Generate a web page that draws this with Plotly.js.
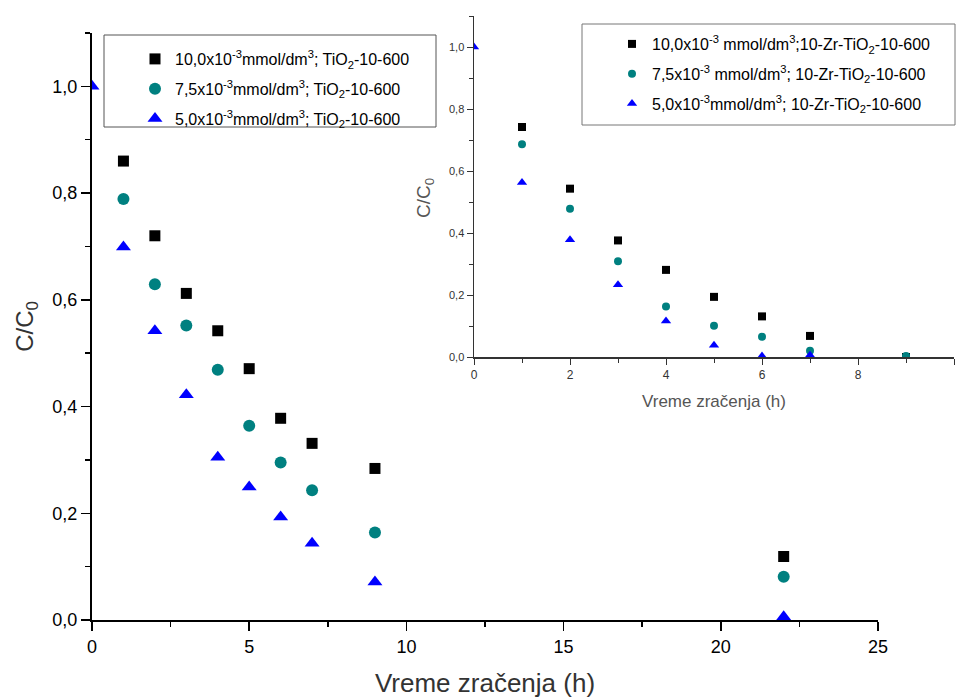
<!DOCTYPE html>
<html>
<head>
<meta charset="utf-8">
<script src="https://cdn.plot.ly/plotly-3.0.1.min.js"></script>
<style>html,body{margin:0;padding:0;background:#fff;}#chart{width:959px;height:698px;}</style>
</head>
<body>
<div id="chart"></div>
<script>
// Main chart: TiO2-10-600
const mainTime = [1, 2, 3, 4, 5, 6, 7, 9, 22];
const main10 = [0.860, 0.720, 0.612, 0.542, 0.471, 0.378, 0.331, 0.284, 0.119];
const main75 = [0.789, 0.629, 0.552, 0.469, 0.364, 0.295, 0.243, 0.164, 0.081];
const mainTime50 = [0, 1, 2, 3, 4, 5, 6, 7, 9, 22];
const main50 = [1.0, 0.699, 0.542, 0.422, 0.305, 0.249, 0.193, 0.144, 0.071, 0.006];

// Inset: 10-Zr-TiO2-10-600
const insetTime = [1, 2, 3, 4, 5, 6, 7, 9];
const inset10 = [0.742, 0.543, 0.376, 0.281, 0.194, 0.131, 0.068, 0.0];
const inset75 = [0.686, 0.478, 0.309, 0.163, 0.101, 0.065, 0.020, 0.003];
const insetTime50 = [0, 1, 2, 3, 4, 5, 6, 7];
const inset50 = [1.0, 0.563, 0.378, 0.233, 0.116, 0.038, 0.003, 0.006];

const names = [
  "10,0x10<sup>-3</sup>mmol/dm<sup>3</sup>; TiO<sub>2</sub>-10-600",
  "7,5x10<sup>-3</sup>mmol/dm<sup>3</sup>; TiO<sub>2</sub>-10-600",
  "5,0x10<sup>-3</sup>mmol/dm<sup>3</sup>; TiO<sub>2</sub>-10-600"
];
const insetNames = [
  "10,0x10<sup>-3</sup> mmol/dm<sup>3</sup>;10-Zr-TiO<sub>2</sub>-10-600",
  "7,5x10<sup>-3</sup> mmol/dm<sup>3</sup>; 10-Zr-TiO<sub>2</sub>-10-600",
  "5,0x10<sup>-3</sup>mmol/dm<sup>3</sup>; 10-Zr-TiO<sub>2</sub>-10-600"
];
const colors = ["#000000", "#008080", "#0000ff"];

const W = 959, H = 698;
const px = v => v / W;
const py = v => 1 - v / H;

const traces = [
  {x: mainTime, y: main10, name: names[0], mode: "markers", type: "scatter", legendgroup: "a",
   marker: {symbol: "square", size: 11, color: colors[0]}, legend: "legend"},
  {x: mainTime, y: main75, name: names[1], mode: "markers", type: "scatter", legendgroup: "b",
   marker: {symbol: "circle", size: 12, color: colors[1]}, legend: "legend"},
  {x: mainTime50, y: main50, name: names[2], mode: "markers", type: "scatter", legendgroup: "c",
   marker: {symbol: "triangle-up", size: 13, color: colors[2]}, legend: "legend"},
  {x: insetTime, y: inset10, name: insetNames[0], mode: "markers", type: "scatter", legendgroup: "d",
   xaxis: "x2", yaxis: "y2", marker: {symbol: "square", size: 8, color: colors[0]}, legend: "legend2"},
  {x: insetTime, y: inset75, name: insetNames[1], mode: "markers", type: "scatter", legendgroup: "e",
   xaxis: "x2", yaxis: "y2", marker: {symbol: "circle", size: 8, color: colors[1]}, legend: "legend2"},
  {x: insetTime50, y: inset50, name: insetNames[2], mode: "markers", type: "scatter", legendgroup: "f",
   xaxis: "x2", yaxis: "y2", marker: {symbol: "triangle-up", size: 9, color: colors[2]}, legend: "legend2"}
];

const mainFont = "'Liberation Sans Narrow', 'Liberation Sans', Arial, sans-serif";
const insetFont = "'Liberation Sans', Arial, sans-serif";

const layout = {
  width: W, height: H,
  margin: {l: 0, r: 0, t: 0, b: 0},
  paper_bgcolor: "#fff", plot_bgcolor: "rgba(0,0,0,0)",
  separators: ",.",
  showlegend: true,
  xaxis: {
    domain: [px(92), px(878)], range: [0, 25], anchor: "y",
    showline: true, linecolor: "#000", linewidth: 2, mirror: false,
    showgrid: false, zeroline: false,
    ticks: "outside", ticklen: 9, tickwidth: 1.5, tickcolor: "#000",
    tickmode: "linear", tick0: 0, dtick: 5,
    minor: {ticks: "outside", ticklen: 5, tickwidth: 1.5, tickcolor: "#000", dtick: 2.5, tick0: 0},
    tickfont: {family: mainFont, size: 18, color: "#000"},
    title: {text: "Vreme zračenja (h)", font: {family: mainFont, size: 26, color: "#333"}, standoff: 18}
  },
  yaxis: {
    domain: [py(620), py(33)], range: [0, 1.1], anchor: "x",
    showline: true, linecolor: "#000", linewidth: 2,
    showgrid: false, zeroline: false,
    ticks: "outside", ticklen: 9, tickwidth: 1.5, tickcolor: "#000",
    tickmode: "linear", tick0: 0, dtick: 0.2, tickformat: ".1f",
    minor: {ticks: "outside", ticklen: 5, tickwidth: 1.5, tickcolor: "#000", dtick: 0.1, tick0: 0},
    tickfont: {family: mainFont, size: 18, color: "#000"},
    title: {text: "C/C<sub>0</sub>", font: {family: insetFont, size: 24, color: "#333"}, standoff: 12}
  },
  xaxis2: {
    domain: [px(474), px(954)], range: [0, 10], anchor: "y2",
    showline: true, linecolor: "#333", linewidth: 1.5,
    showgrid: false, zeroline: false,
    ticks: "outside", ticklen: 6, tickwidth: 1, tickcolor: "#333",
    tickmode: "linear", tick0: 0, dtick: 2,
    minor: {ticks: "outside", ticklen: 4, tickwidth: 1, tickcolor: "#333", dtick: 1, tick0: 0},
    tickfont: {family: insetFont, size: 12, color: "#333"},
    title: {text: "Vreme zračenja (h)", font: {family: insetFont, size: 17, color: "#555"}, standoff: 14}
  },
  yaxis2: {
    domain: [py(357), py(16)], range: [0, 1.1], anchor: "x2",
    showline: true, linecolor: "#333", linewidth: 1.5,
    showgrid: false, zeroline: false,
    ticks: "outside", ticklen: 6, tickwidth: 1, tickcolor: "#333",
    tickmode: "linear", tick0: 0, dtick: 0.2, tickformat: ".1f",
    minor: {ticks: "outside", ticklen: 4, tickwidth: 1, tickcolor: "#333", dtick: 0.1, tick0: 0},
    tickfont: {family: insetFont, size: 11, color: "#333"},
    title: {text: "", font: {family: insetFont, size: 19, color: "#555"}}
  },
  legend: {
    x: px(135), y: py(42), xanchor: "left", yanchor: "top",
    bgcolor: "rgba(0,0,0,0)", borderwidth: 0, tracegroupgap: 6,
    font: {family: insetFont, size: 16, color: "#000"}
  },
  legend2: {
    x: px(612), y: py(27), xanchor: "left", yanchor: "top",
    bgcolor: "rgba(0,0,0,0)", borderwidth: 0, tracegroupgap: 6,
    font: {family: insetFont, size: 16, color: "#000"}
  },
  annotations: [
    {text: "C/C<sub>0</sub>", xref: "paper", yref: "paper", x: px(425), y: py(198),
     xanchor: "center", yanchor: "middle", textangle: -90, showarrow: false,
     font: {family: insetFont, size: 19, color: "#555"}}
  ],
  shapes: [
    {type: "rect", xref: "paper", yref: "paper", x0: px(104), x1: px(436), y0: py(127), y1: py(35),
     line: {color: "#555", width: 1}, fillcolor: "rgba(0,0,0,0)"},
    {type: "rect", xref: "paper", yref: "paper", x0: px(582), x1: px(955), y0: py(125), y1: py(24),
     line: {color: "#777", width: 1}, fillcolor: "rgba(0,0,0,0)"}
  ]
};

Plotly.newPlot("chart", traces, layout, {staticPlot: true, displayModeBar: false});
</script>
</body>
</html>
